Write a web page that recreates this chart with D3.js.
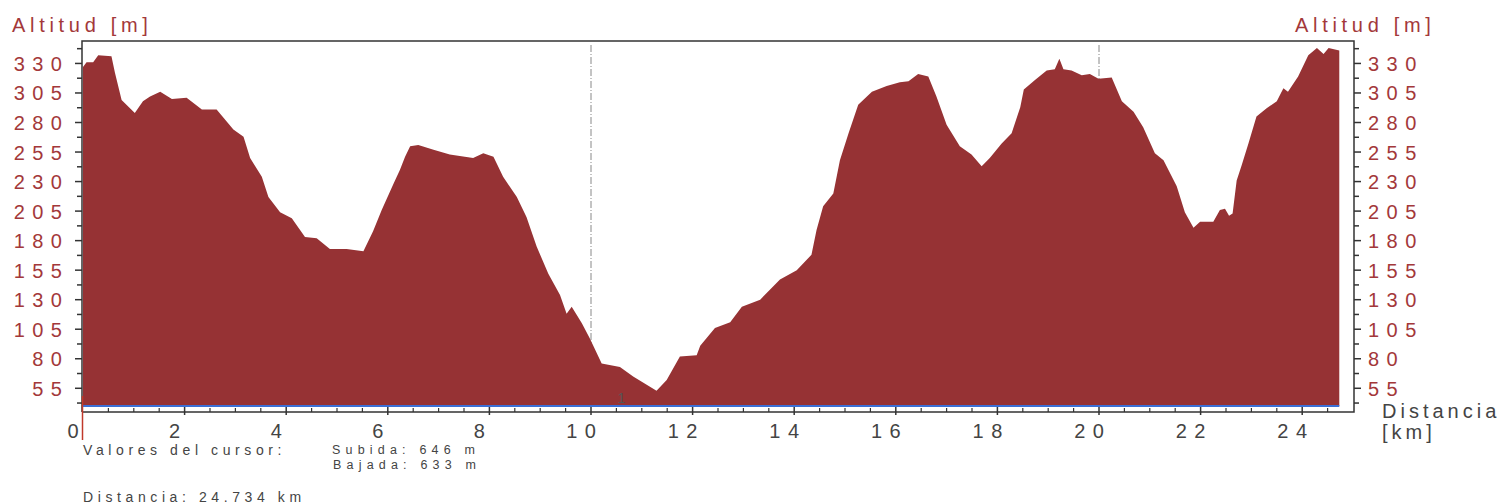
<!DOCTYPE html>
<html>
<head>
<meta charset="utf-8">
<script src="https://cdn.jsdelivr.net/npm/d3@7"></script>
<style>
  body { margin: 0; background: #fff; }
  text { font-family: "Liberation Sans", Arial, sans-serif; }
</style>
</head>
<body>
<svg id="chart" width="1506" height="504"></svg>
<script>
// distance along the route (km) and altitude (m)
const distKm = [0, 0.07, 0.2, 0.3, 0.56, 0.63, 0.76, 1.02, 1.18, 1.32, 1.52, 1.75, 2.04, 2.34, 2.63, 2.96, 3.16, 3.29, 3.52, 3.65,
  3.88, 4.11, 4.37, 4.6, 4.86, 5.19, 5.52, 5.71, 5.88, 6.11, 6.24, 6.34, 6.44, 6.6, 6.9, 7.22, 7.68, 7.88, 8.08, 8.27,
  8.54, 8.73, 8.93, 9.16, 9.39, 9.52, 9.62, 9.82, 9.98, 10.21, 10.57, 10.83, 11.29, 11.49, 11.75, 12.08, 12.15, 12.44, 12.74, 12.97,
  13.33, 13.72, 14.05, 14.34, 14.44, 14.57, 14.77, 14.9, 15.07, 15.26, 15.53, 15.82, 16.08, 16.25, 16.44, 16.64, 16.8, 17.0, 17.26, 17.49,
  17.69, 17.85, 18.08, 18.28, 18.45, 18.52, 18.74, 18.97, 19.13, 19.22, 19.3, 19.46, 19.66, 19.82, 19.99, 20.25, 20.45, 20.68, 20.87, 21.1,
  21.27, 21.53, 21.69, 21.86, 21.99, 22.25, 22.38, 22.48, 22.56, 22.63, 22.71, 22.81, 22.94, 23.1, 23.3, 23.5, 23.63, 23.72, 23.92, 24.12,
  24.29, 24.42, 24.52, 24.73];
const altM = [327, 331, 331, 337, 336, 322, 299, 288, 298, 302, 306, 300, 301, 291, 291, 274, 268, 250, 234, 217,
  204, 199, 183, 182, 173, 173, 171, 188, 206, 228, 240, 251, 260, 261, 257, 253, 250, 254, 251, 234,
  217, 200, 175, 152, 134, 118, 124, 110, 97, 76, 73, 65, 53, 62, 82, 83, 91, 106, 111, 124,
  130, 147, 155, 168, 189, 209, 220, 248, 271, 295, 306, 311, 314, 315, 321, 319, 302, 278, 260, 253,
  243, 250, 262, 271, 293, 308, 316, 324, 325, 334, 325, 324, 320, 321, 317, 318, 298, 289, 276, 254,
  248, 226, 204, 191, 196, 196, 206, 207, 201, 203, 231, 244, 262, 285, 292, 298, 309, 306, 319, 337,
  343, 338, 343, 341];

const yTickLabels = [55, 80, 105, 130, 155, 180, 205, 230, 255, 280, 305, 330];
const xTickLabels = [0, 2, 4, 6, 8, 10, 12, 14, 16, 18, 20, 22, 24];
const markerKm = [10, 20];
const waypoints = [{ km: 10.6, label: "1" }];
const infoLines = ["Valores del cursor:", "Subida: 646 m", "Bajada: 633 m", "Distancia: 24.734 km"];

const data = distKm.map((d, i) => ({ d, a: altM[i] }));

const svg = d3.select('#chart');
const pLeft = 82, pRight = 1354, pTop = 41, pBottom = 412;

const x = d3.scaleLinear().domain([0, 25]).range([83, 1353]);
const y = d3.scaleLinear().domain([40, 349]).range([406, 41]);

const red = '#a3383a';
const axisCol = '#333';

// dashed km markers
svg.selectAll('line.marker')
  .data(markerKm)
  .join('line')
  .attr('class', 'marker')
  .attr('x1', (d) => x(d)).attr('x2', (d) => x(d))
  .attr('y1', pTop + 4).attr('y2', y(40))
  .attr('stroke', '#888')
  .attr('stroke-width', 1)
  .attr('stroke-dasharray', '7,2,1,2');

// elevation area
const area = d3.area()
  .x((d) => x(d.d))
  .y0(y(40))
  .y1((d) => y(d.a));

svg.append('path')
  .datum(data)
  .attr('d', area)
  .attr('fill', '#963234');

// blue base line
svg.append('line')
  .attr('x1', x(0)).attr('x2', x(d3.max(distKm)))
  .attr('y1', y(40)).attr('y2', y(40))
  .attr('stroke', '#3b6fd6')
  .attr('stroke-width', 2);

// frame
svg.append('path')
  .attr('d', `M${pLeft},${pBottom}V${pTop}H${pRight}V${pBottom}H${pLeft}`)
  .attr('fill', 'none')
  .attr('stroke', axisCol)
  .attr('stroke-width', 1.5);

// y ticks (both sides)
const yMajor = yTickLabels;
const yMinor = d3.range(42.5, 349, 25);
[[pLeft, -1], [pRight, 1]].forEach(([xx, dir]) => {
  svg.append('g').selectAll('line')
    .data(yMajor)
    .join('line')
    .attr('x1', xx).attr('x2', xx + dir * 7)
    .attr('y1', (d) => y(d)).attr('y2', (d) => y(d))
    .attr('stroke', axisCol).attr('stroke-width', 1.5);
  svg.append('g').selectAll('line')
    .data(yMinor)
    .join('line')
    .attr('x1', xx).attr('x2', xx + dir * 5)
    .attr('y1', (d) => y(d)).attr('y2', (d) => y(d))
    .attr('stroke', axisCol).attr('stroke-width', 1.5);
});

// x ticks
const xMinor = d3.range(0.5, 25, 0.5).filter((d) => d % 2 !== 0);
svg.append('g').selectAll('line')
  .data(xMinor)
  .join('line')
  .attr('x1', (d) => x(d)).attr('x2', (d) => x(d))
  .attr('y1', pBottom).attr('y2', pBottom - 4)
  .attr('stroke', axisCol).attr('stroke-width', 1.2);
svg.append('g').selectAll('line')
  .data(xTickLabels.slice(1))
  .join('line')
  .attr('x1', (d) => x(d)).attr('x2', (d) => x(d))
  .attr('y1', pBottom + 3).attr('y2', pBottom - 5)
  .attr('stroke', axisCol).attr('stroke-width', 1.5);

// y labels
const ls = 7.5;
svg.append('g').selectAll('text')
  .data(yTickLabels)
  .join('text')
  .attr('x', 62 + ls)
  .attr('y', (d) => y(d) + 7.5)
  .attr('text-anchor', 'end')
  .attr('font-size', 20)
  .attr('letter-spacing', ls)
  .attr('fill', red)
  .text((d) => d);
svg.append('g').selectAll('text')
  .data(yTickLabels)
  .join('text')
  .attr('x', 1368)
  .attr('y', (d) => y(d) + 7.5)
  .attr('font-size', 20)
  .attr('letter-spacing', ls)
  .attr('fill', red)
  .text((d) => d);

// x labels
svg.append('g').selectAll('text')
  .data(xTickLabels)
  .join('text')
  .attr('x', (d) => x(d) - 10 + ls / 2)
  .attr('y', 438)
  .attr('text-anchor', 'middle')
  .attr('font-size', 20)
  .attr('letter-spacing', ls)
  .attr('fill', '#444')
  .text((d) => d);

// axis titles
svg.append('text').attr('x', 12).attr('y', 32)
  .attr('font-size', 20).attr('letter-spacing', 4.7).attr('fill', red)
  .text('Altitud [m]');
svg.append('text').attr('x', 1295).attr('y', 32)
  .attr('font-size', 20).attr('letter-spacing', 4.7).attr('fill', red)
  .text('Altitud [m]');
svg.append('text').attr('x', 1382).attr('y', 418)
  .attr('font-size', 20).attr('letter-spacing', 4).attr('fill', '#444')
  .text('Distancia');
svg.append('text').attr('x', 1382).attr('y', 439)
  .attr('font-size', 20).attr('letter-spacing', 4).attr('fill', '#444')
  .text('[km]');

// cursor line
svg.append('line')
  .attr('x1', x(0) - 0.5).attr('x2', x(0) - 0.5)
  .attr('y1', 396).attr('y2', 440)
  .attr('stroke', '#c0392b').attr('stroke-width', 1.5);

// waypoint number
svg.selectAll('text.wp')
  .data(waypoints)
  .join('text')
  .attr('class', 'wp')
  .attr('x', (d) => x(d.km))
  .attr('y', 403)
  .attr('text-anchor', 'middle')
  .attr('font-size', 14)
  .attr('fill', '#555')
  .text((d) => d.label);

// cursor info
const info = [
  { x: 83, y: 455, t: infoLines[0], fs: 14 },
  { x: 332, y: 454, t: infoLines[1], fs: 12.5 },
  { x: 333, y: 469, t: infoLines[2], fs: 12.5 },
  { x: 83, y: 502, t: infoLines[3], fs: 14 }
];
svg.append('g').selectAll('text')
  .data(info)
  .join('text')
  .attr('x', (d) => d.x)
  .attr('y', (d) => d.y)
  .attr('font-size', (d) => d.fs)
  .attr('letter-spacing', (d) => (d.fs < 14 ? 5.2 : 4.6))
  .attr('fill', '#444')
  .text((d) => d.t);
</script>
</body>
</html>
